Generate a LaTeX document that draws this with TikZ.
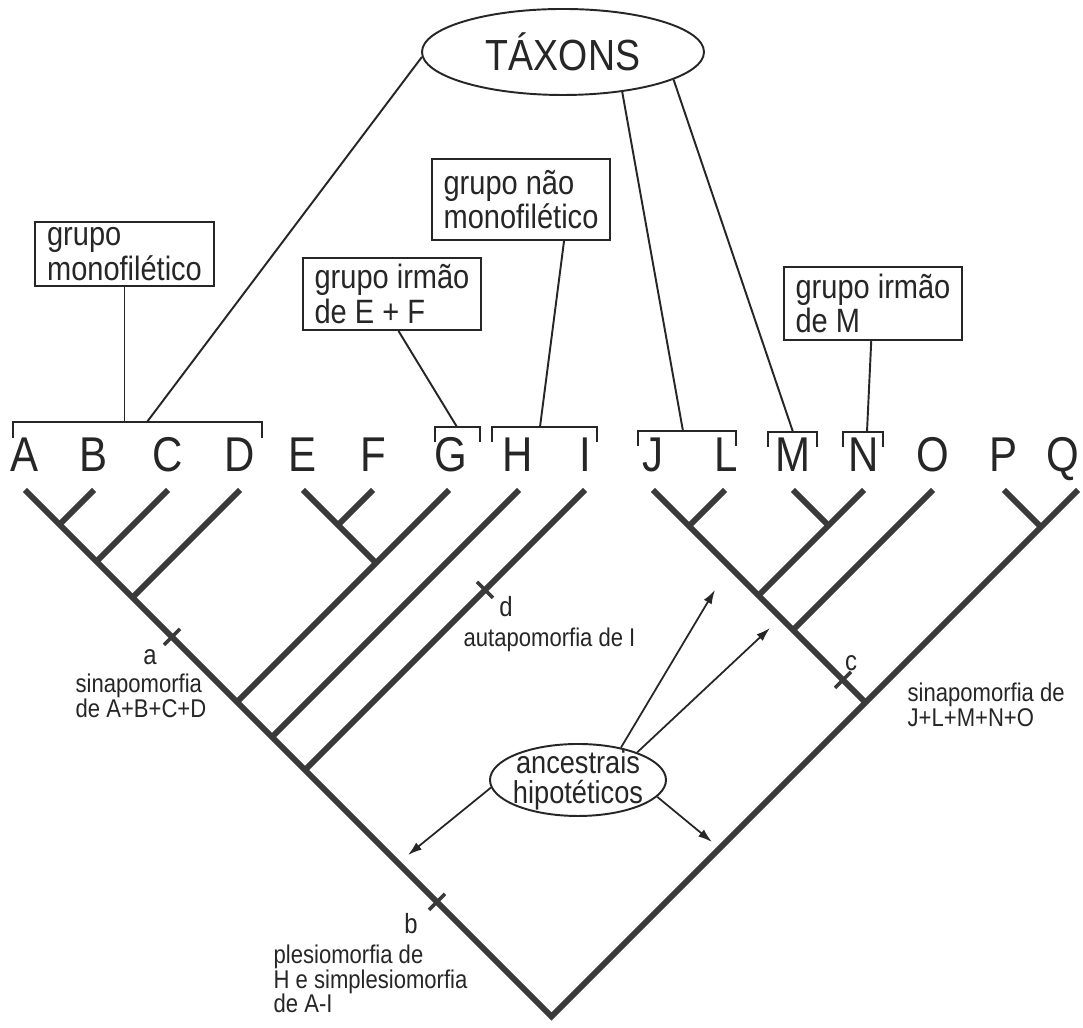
\documentclass[tikz,border=0pt]{standalone}
\usepackage{fontspec}
\setmainfont{Liberation Sans}[FakeStretch=0.86]
\usetikzlibrary{shapes.geometric,arrows.meta}
\definecolor{ink}{HTML}{262626}
\definecolor{treegray}{HTML}{3A3A3A}
\begin{document}
\begin{tikzpicture}[x=0.1mm,y=-0.1mm,
    branch/.style={line width=1.7pt,draw=treegray,line join=miter},
    apobar/.style={line width=1pt,draw=treegray},
    link/.style={line width=0.55pt,draw=ink},
    pointer/.style={line width=0.5pt,draw=ink,-{Latex[length=1.4mm,width=0.9mm]}},
    taxon/.style={inner sep=0pt,anchor=base,text=ink,font=\fontsize{13.9pt}{14pt}\selectfont},
    bubble/.style={ellipse,draw=ink,line width=0.55pt,inner sep=-1mm,align=center,text=ink},
    groupbox/.style={draw=ink,line width=0.6pt,inner xsep=1.2mm,inner ysep=1.6pt,align=left,text=ink,font=\fontsize{9.6pt}{9.8pt}\selectfont},
    note/.style={inner sep=0pt,anchor=west,align=left,text=ink,font=\fontsize{7.3pt}{7pt}\selectfont},
    charlabel/.style={inner sep=0pt,text=ink,font=\fontsize{7.9pt}{8pt}\selectfont}]
      \useasboundingbox[fill=white] (0,0) rectangle (1083,1028);

      \node[bubble,minimum width=28.2mm,minimum height=8.6mm,font=\fontsize{12.4pt}{13pt}\selectfont] (taxons) at (563,52) {TÁXONS};
      \node[groupbox,minimum height=6.1mm] (mono) at (124.5,254) {grupo\\monofilético};
      \node[groupbox,minimum height=8.1mm] (naomono) at (521,199.5) {grupo não\\monofilético};
      \node[groupbox,minimum height=7.2mm] (irmaoEF) at (392,294) {grupo irmão\\de E + F};
      \node[groupbox,minimum height=7.3mm] (irmaoM) at (873,303.5) {grupo irmão\\de M};

      \node[taxon] (A) at (25,472) {A};
      \node[taxon] (B) at (94,472) {B};
      \node[taxon] (C) at (168,472) {C};
      \node[taxon] (D) at (240,472) {D};
      \node[taxon] (E) at (303,472) {E};
      \node[taxon] (F) at (373,472) {F};
      \node[taxon] (G) at (451,472) {G};
      \node[taxon] (H) at (518,472) {H};
      \node[taxon] (I) at (585,472) {I};
      \node[taxon] (J) at (653,472) {J};
      \node[taxon] (L) at (726,472) {L};
      \node[taxon] (M) at (793,472) {M};
      \node[taxon] (N) at (864,472) {N};
      \node[taxon] (O) at (933,472) {O};
      \node[taxon] (P) at (1004,472) {P};
      \node[taxon] (Q) at (1063,472) {Q};

      \coordinate (tA) at (25,490);
      \coordinate (tB) at (94,490);
      \coordinate (tC) at (168,490);
      \coordinate (tD) at (240,490);
      \coordinate (tE) at (303,490);
      \coordinate (tF) at (373,490);
      \coordinate (tG) at (449,490);
      \coordinate (tH) at (519,490);
      \coordinate (tI) at (585,490);
      \coordinate (tJ) at (653,490);
      \coordinate (tL) at (725,490);
      \coordinate (tM) at (793,490);
      \coordinate (tN) at (864,490);
      \coordinate (tO) at (933,490);
      \coordinate (tP) at (1004,490);
      \coordinate (tQ) at (1078,490);

      \coordinate (nAB) at (59.5,524.5);
      \coordinate (nAC) at (96.5,561.5);
      \coordinate (nAD) at (132.5,597.5);
      \coordinate (nEF) at (338,525);
      \coordinate (nEG) at (376,563);
      \coordinate (nAG) at (237,702);
      \coordinate (nAH) at (272,737);
      \coordinate (nAI) at (305,770);
      \coordinate (nJL) at (689,526);
      \coordinate (nMN) at (828.5,525.5);
      \coordinate (nJN) at (758.5,595.5);
      \coordinate (nJO) at (793,630);
      \coordinate (nJQ) at (865.5,702.5);
      \coordinate (nPQ) at (1041,527);
      \coordinate (root) at (551.5,1016.5);

      \begin{scope}[branch]
        \draw (tA) -- (root) -- (tQ);
        \draw (tB) to (nAB);
        \draw (tC) to (nAC);
        \draw (tD) to (nAD);
        \draw (tE) to (nEG);
        \draw (tF) to (nEF);
        \draw (tG) to (nAG);
        \draw (tH) to (nAH);
        \draw (tI) to (nAI);
        \draw (tJ) to (nJQ);
        \draw (tL) to (nJL);
        \draw (tM) to (nMN);
        \draw (tN) to (nJN);
        \draw (tO) to (nJO);
        \draw (tP) to (nPQ);
      \end{scope}

      \begin{scope}[apobar]
        \draw (164,645) -- (180,629);
        \draw (429,910) -- (445,894);
        \draw (835,688) -- (851,672);
        \draw (477,582) -- (493,598);
      \end{scope}
      \node[charlabel] (la) at (150,657) {a};
      \node[charlabel] (lb) at (411,924) {b};
      \node[charlabel] (lc) at (851,663) {c};
      \node[charlabel] (ld) at (506,607) {d};

      \node[note] (sinABCD) at (75,696) {sinapomorfia\\de A+B+C+D};
      \node[note] (autI) at (463,640) {autapomorfia de I};
      \node[note] (sinJO) at (907,705) {sinapomorfia de\\J+L+M+N+O};
      \node[note] (plesio) at (273,979) {plesiomorfia de\\H e simplesiomorfia\\de A-I};

      \begin{scope}[link]
        \draw (13,438) |- (262,422) -- (262,438);
        \draw (435,442) |- (480,427) -- (480,442);
        \draw (492,442) |- (597,427) -- (597,442);
        \draw (638,446) |- (736,431) -- (736,446);
        \draw (768,447) |- (817,432) -- (817,447);
        \draw (843,447) |- (883,432) -- (883,447);
      \end{scope}
      \coordinate (bABCDm) at (124.5,422);
      \coordinate (bABCDt) at (147,422);
      \coordinate (bG) at (457,427);
      \coordinate (bHI) at (540,427);
      \coordinate (bJL) at (683,431);
      \coordinate (bM) at (793,432);
      \coordinate (bN) at (867,432);

      \begin{scope}[link]
        \draw (taxons.182) to (bABCDt);
        \draw (taxons.-34) to (bJL);
        \draw (taxons.-14) to (bM);
        \draw (mono) to (bABCDm);
        \draw (irmaoEF.-80) to (bG);
        \draw (naomono.-44) to (bHI);
        \draw (irmaoM) to (bN);
      \end{scope}

      \node[bubble,minimum width=17.6mm,minimum height=7.2mm,font=\fontsize{9pt}{8.5pt}\selectfont] (ancestrais) at (578,780) {ancestrais\\hipotéticos};
      \coordinate (anc1) at (715,590);
      \coordinate (anc2) at (770,628);
      \coordinate (anc3) at (712,842);
      \coordinate (anc4) at (408,855);
      \draw[pointer] (ancestrais.37) -- (anc1);
      \draw[pointer] (ancestrais.25) -- (anc2);
      \draw[pointer] (ancestrais.-12) -- (anc3);
      \draw[pointer] (ancestrais.185) -- (anc4);
    \end{tikzpicture}
\end{document}
